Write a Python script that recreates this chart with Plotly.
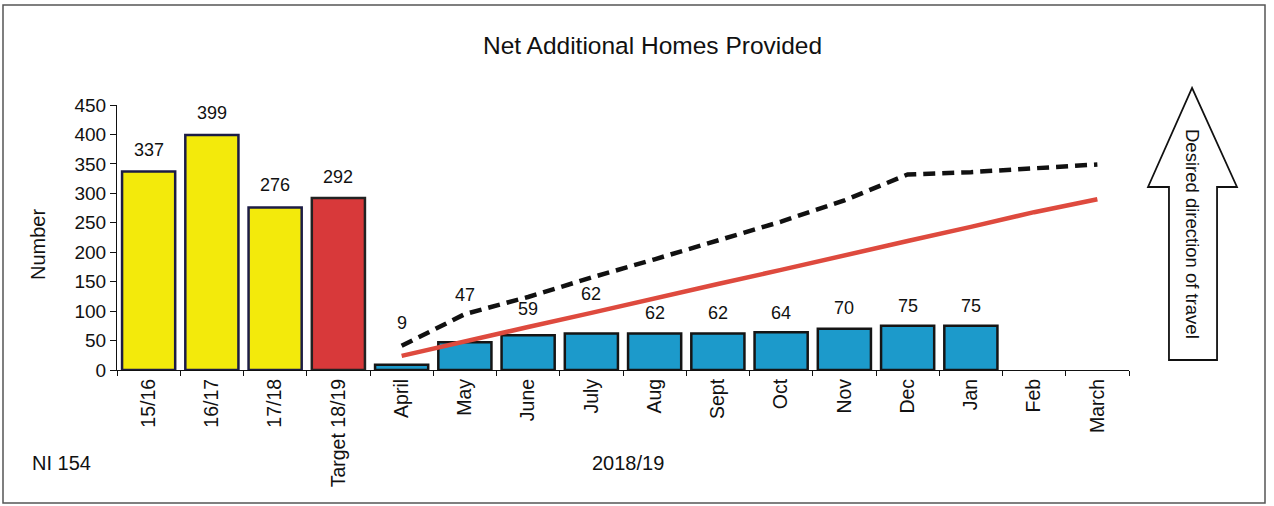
import plotly.graph_objects as go

# --- data ---
categories = ["15/16", "16/17", "17/18", "Target 18/19", "April", "May", "June", "July",
              "Aug", "Sept", "Oct", "Nov", "Dec", "Jan", "Feb", "March"]
past_years = ["15/16", "16/17", "17/18"]
past_values = [337, 399, 276]
target_cat = ["Target 18/19"]
target_value = [292]
months = ["April", "May", "June", "July", "Aug", "Sept", "Oct", "Nov", "Dec", "Jan", "Feb", "March"]
month_values = [9, 47, 59, 62, 62, 62, 64, 70, 75, 75, None, None]
# cumulative trajectory lines
target_trajectory = [24, 49, 73, 97, 122, 146, 170, 195, 219, 243, 268, 290]
last_year_cumulative = [41, 95, 124, 157, 188, 220, 252, 288, 332, 336, 342, 349]

# label lift above each bar (px), as placed in the reference
label_lift = [22, 22, 22, 21, 42, 47, 26, 39, 20, 20, 19, 21, 20, 20]

FONT = "Liberation Sans, Arial, sans-serif"
W, H = 1274, 506
L, R, T, B = 117, 1129, 105, 370  # plot area in px


def px(x, y):
    # pixel -> paper coords
    return (x - L) / (R - L), (B - y) / (B - T)


def note(x, y, text, size, angle=0, xanchor="center"):
    ax, ay = px(x, y)
    fig.add_annotation(x=ax, y=ay, xref="paper", yref="paper", text=text, textangle=angle,
                       xanchor=xanchor, yanchor="middle", showarrow=False,
                       font=dict(size=size, color="#111111", family=FONT))


fig = go.Figure()

fig.add_trace(go.Bar(x=past_years, y=past_values, marker=dict(color="#F3EA0B", line=dict(color="#1C1C45", width=2.5)),
                     width=0.84, name="Previous years"))
fig.add_trace(go.Bar(x=target_cat, y=target_value, marker=dict(color="#D8393A", line=dict(color="#222222", width=2.5)),
                     width=0.84, name="Target"))
fig.add_trace(go.Bar(x=months, y=month_values, marker=dict(color="#1C9ACB", line=dict(color="#151515", width=2.5)),
                     width=0.84, name="2018/19"))

fig.add_trace(go.Scatter(x=months, y=target_trajectory, mode="lines",
                         line=dict(color="#DE4A3E", width=4.5), name="Target trajectory"))
fig.add_trace(go.Scatter(x=months, y=last_year_cumulative, mode="lines",
                         line=dict(color="#111111", width=4.5, dash="12px,7px"), name="Last year"))

# data labels
bar_cats = past_years + target_cat + months[:10]
bar_vals = past_values + target_value + month_values[:10]
for c, v, lift in zip(bar_cats, bar_vals, label_lift):
    fig.add_annotation(x=c, y=v, text=str(v), showarrow=False, yshift=lift,
                       yanchor="middle", font=dict(size=18, color="#111111", family=FONT))

# title and free text
note(652, 45, "Net Additional Homes Provided", 24.5)
note(38, 245, "Number", 20, angle=-90)
note(30, 463, "NI 154", 20, xanchor="left")
note(628, 463, "2018/19", 20)

# block arrow "Desired direction of travel"
pts = [(1192, 88), (1237, 187), (1217, 187), (1217, 360), (1169, 360), (1169, 187), (1148, 187)]
path = "M " + " L ".join(f"{px(x, y)[0]:.4f},{px(x, y)[1]:.4f}" for x, y in pts) + " Z"
fig.add_shape(type="path", path=path, xref="paper", yref="paper", line=dict(color="#111111", width=1.8),
              fillcolor="white")
note(1193, 234, "Desired direction of travel", 18.5, angle=90)

# outer frame
x0, y0 = px(3, 5)
x1, y1 = px(1265, 503)
fig.add_shape(type="rect", xref="paper", yref="paper", x0=x0, y0=y1, x1=x1, y1=y0,
              line=dict(color="#555555", width=1.5))

fig.update_layout(
    width=W, height=H,
    margin=dict(l=L, r=W - R, t=T, b=H - B),
    paper_bgcolor="white", plot_bgcolor="white",
    barmode="overlay", showlegend=False,
    font=dict(family=FONT, color="#111111", size=19),
)
fig.update_xaxes(type="category", categoryorder="array", categoryarray=categories,
                 range=[-0.5, 15.5], tickson="boundaries", ticks="outside", ticklen=5,
                 tickcolor="#111111", showline=True, linecolor="#111111", linewidth=1.2,
                 tickangle=-90, tickfont=dict(size=19.5), showgrid=False)
fig.update_yaxes(range=[0, 450], dtick=50, ticks="outside", ticklen=6, tickcolor="#111111",
                 showline=True, linecolor="#111111", linewidth=1.2, showgrid=False, zeroline=False,
                 tickfont=dict(size=19))

# the page body has a default 8px margin; drop it so the figure sits at the window origin
fig.write_html("out.html", config={"displayModeBar": False},
               post_script="document.body.style.margin='0px';")
